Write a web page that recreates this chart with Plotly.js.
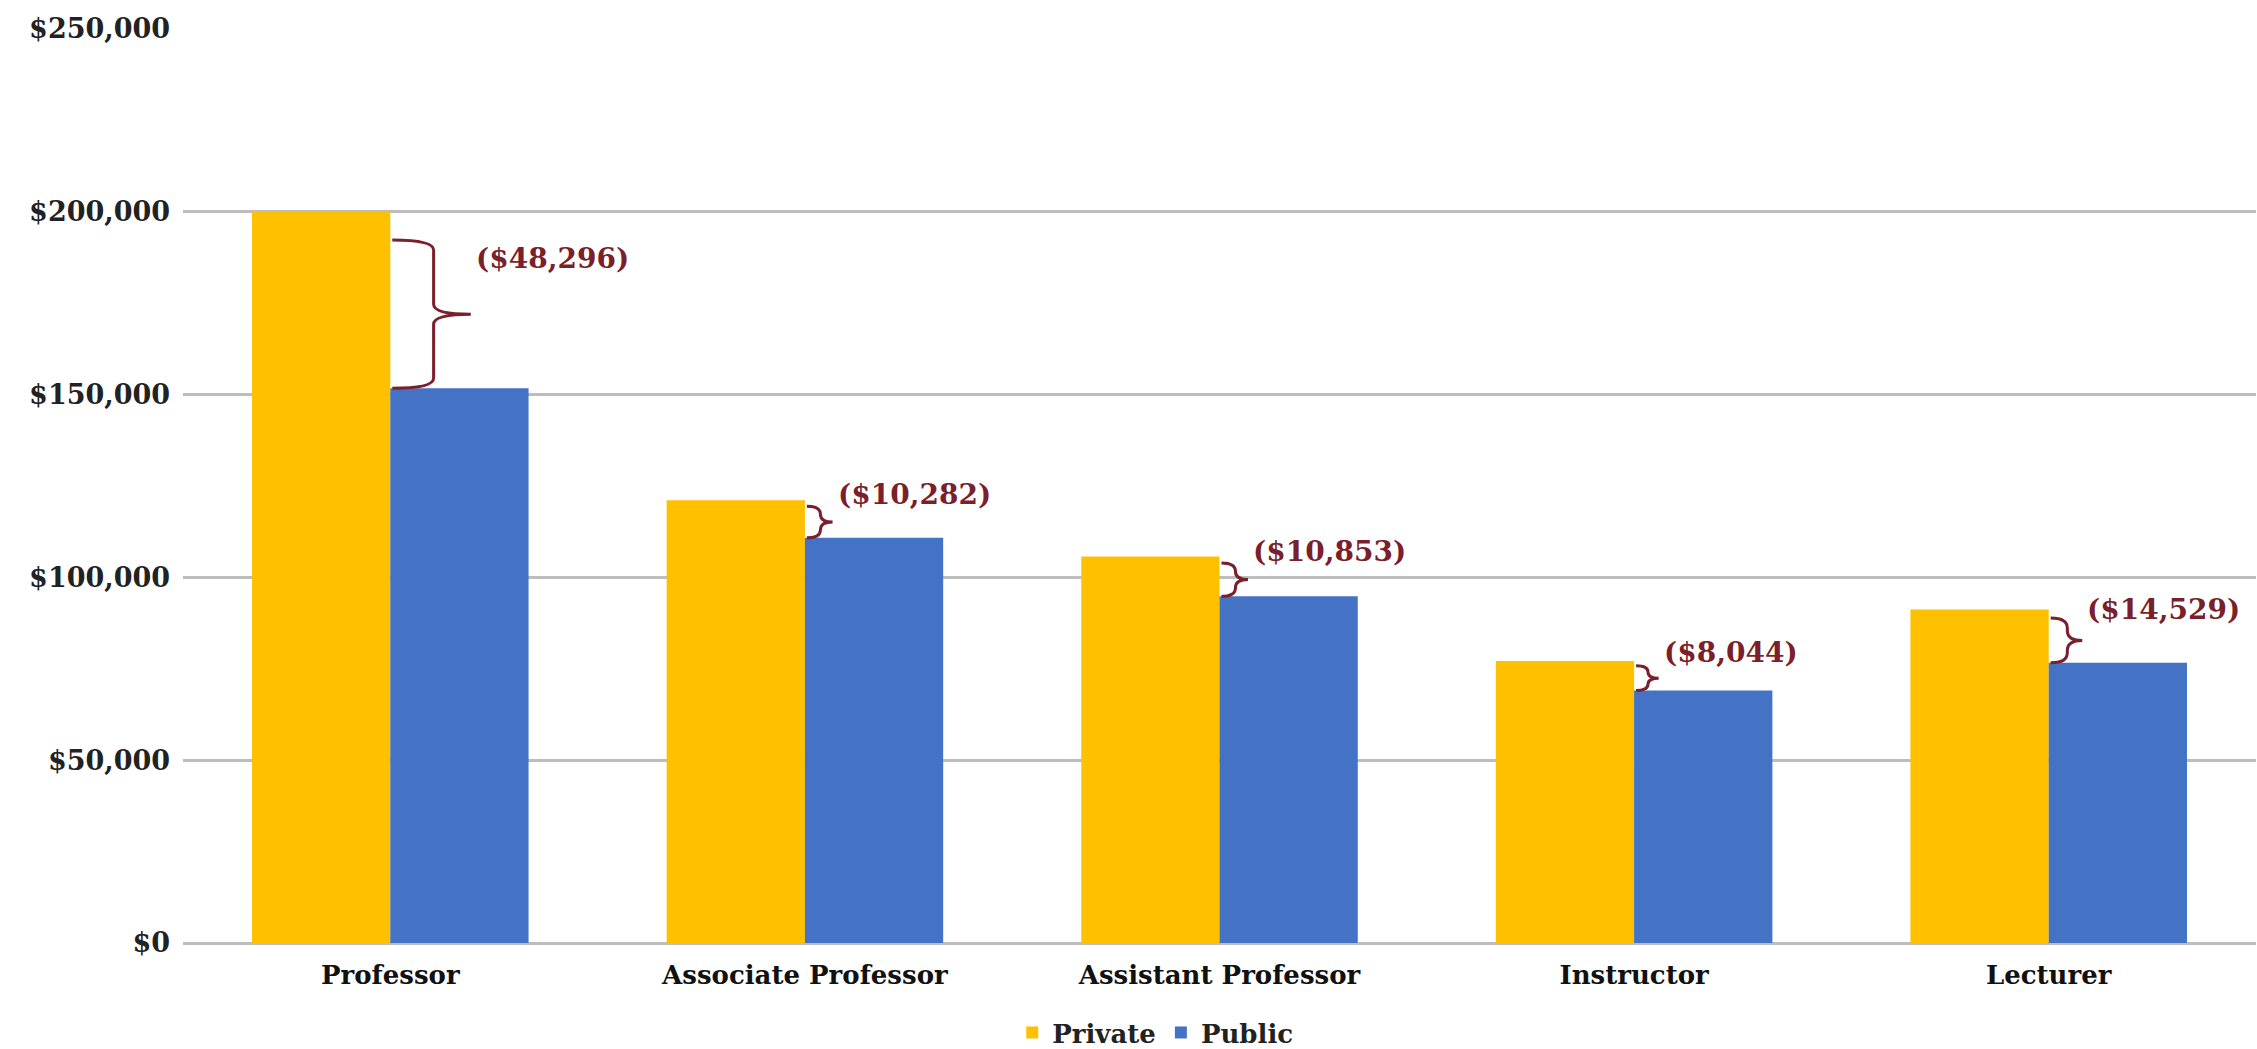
<!DOCTYPE html>
<html>
<head>
<meta charset="utf-8">
<script src="https://cdn.plot.ly/plotly-3.0.1.min.js"></script>
<style>
  html, body { margin: 0; padding: 0; background: #ffffff; }
  #chart { width: 2257px; height: 1049px; }
</style>
</head>
<body>
<div id="chart"></div>
<script>
// ---- data ----
const categories = ['Professor', 'Associate Professor', 'Assistant Professor', 'Instructor', 'Lecturer'];
const privateSalary = [200000, 121100, 105700, 77100, 91200];
const publicSalary  = [151704, 110818, 94847, 69056, 76671];
const seriesNames = ['Private', 'Public'];
const yTickVals = [0, 50000, 100000, 150000, 200000, 250000];
const yTickText = ['$0', '$50,000', '$100,000', '$150,000', '$200,000', '$250,000'];

// ---- layout constants ----
const W = 2257, H = 1049;
const M = {l: 183, r: 1, t: 29, b: 106, autoexpand: false};
const plotW = W - M.l - M.r, plotH = H - M.t - M.b;
const yMax = 250000;
const pxPerX = plotW / categories.length;
const pxPerY = plotH / yMax;

const FONT = "'DejaVu Serif', Georgia, serif";
const braceColor = '#7a1f2b';

const xIdx = categories.map((c, i) => i);

const traces = [
  {
    type: 'bar', name: seriesNames[0], x: xIdx, y: privateSalary,
    marker: {color: '#FFC000'}, hoverinfo: 'y'
  },
  {
    type: 'bar', name: seriesNames[1], x: xIdx, y: publicSalary,
    marker: {color: '#4472C4'}, hoverinfo: 'y'
  }
];

const shapes = [];
const annotations = [];
categories.forEach((c, i) => {
  const diff = privateSalary[i] - publicSalary[i];
  const hpx0 = diff * pxPerY;
  // brace drawn slightly below the private bar top, down to the public bar top
  const yT = privateSalary[i] - (0.16 * hpx0) / pxPerY;
  const yB = publicSalary[i];
  const hpx = (yT - yB) * pxPerY;
  const wpx = 6 + 0.2 * hpx0;
  const tpx = 0.9 * wpx;
  const rpx = Math.min(hpx / 4, 10);
  const x0 = i + 2 / pxPerX;
  const xv = x0 + wpx / pxPerX;
  const xt = xv + tpx / pxPerX;
  const r = rpx / pxPerY;
  const ym = (yT + yB) / 2;
  const path = `M ${x0},${yT} Q ${xv},${yT} ${xv},${yT - r} L ${xv},${ym + r} ` +
               `Q ${xv},${ym} ${xt},${ym} Q ${xv},${ym} ${xv},${ym - r} ` +
               `L ${xv},${yB + r} Q ${xv},${yB} ${x0},${yB}`;
  shapes.push({
    type: 'path', xref: 'x', yref: 'y', path: path,
    line: {color: braceColor, width: 3}
  });
  annotations.push({
    xref: 'x', yref: 'y', x: xt, y: ym,
    xanchor: 'left', yanchor: 'middle',
    xshift: 3, yshift: 20 + 0.2 * hpx0,
    showarrow: false,
    text: '($' + diff.toLocaleString('en-US') + ')',
    font: {family: FONT, size: 28, color: braceColor, weight: 'bold'}
  });
});

const layout = {
  width: W, height: H,
  margin: M,
  paper_bgcolor: '#ffffff', plot_bgcolor: '#ffffff',
  barmode: 'group', bargap: 0.333, bargroupgap: 0,
  showlegend: true,
  legend: {
    orientation: 'h', x: 0.469, xanchor: 'center', y: -0.098, yanchor: 'middle',
    font: {family: FONT, size: 26, color: '#222222', weight: 'bold'},
    itemwidth: 30
  },
  xaxis: {
    range: [-0.5, categories.length - 0.5],
    tickvals: xIdx, ticktext: categories,
    showgrid: false, zeroline: false, showline: false, ticks: '',
    ticklabelstandoff: 14,
    tickfont: {family: FONT, size: 26, color: '#111111', weight: 'bold'},
    fixedrange: true
  },
  yaxis: {
    range: [0, yMax],
    tickvals: yTickVals, ticktext: yTickText,
    showgrid: true, gridcolor: '#bdbdbd', gridwidth: 3,
    zeroline: true, zerolinecolor: '#bdbdbd', zerolinewidth: 3,
    showline: false, ticks: '',
    ticklabelstandoff: 12,
    tickfont: {family: FONT, size: 27, color: '#222222', weight: 'bold'},
    fixedrange: true
  },
  shapes: shapes,
  annotations: annotations
};

Plotly.newPlot('chart', traces, layout, {displayModeBar: false, staticPlot: true});
</script>
</body>
</html>
